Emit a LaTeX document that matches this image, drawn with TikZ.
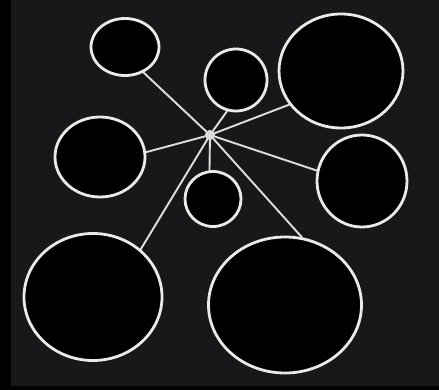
\documentclass[tikz,border=0pt]{standalone}
\usetikzlibrary{shapes.geometric}
\definecolor{bgg}{RGB}{24,24,26}
\definecolor{chalk}{RGB}{234,234,230}
\tikzset{
  blob/.style={ellipse, draw=chalk, fill=black, line width=2.8pt, inner sep=0pt},
  hub/.style={circle, fill=chalk!85!gray, minimum size=10pt, inner sep=0pt},
  spoke/.style={draw=chalk!90!gray, line width=1.9pt, line cap=round}
}
\begin{document}
\begin{tikzpicture}[x=1pt,y=-1pt]
\useasboundingbox (0,0) rectangle (439,390);
\fill[bgg] (0,0) rectangle (439,390);
\fill[black] (0,0) rectangle (11,390);
\fill[black] (0,386) rectangle (439,390);
\node[hub] (c) at (210,135) {};
\node[blob, minimum width=68pt, minimum height=57pt] (n1) at (125,47) {};
\node[blob, minimum width=62pt, minimum height=62pt] (n2) at (236,80) {};
\node[blob, minimum width=124pt, minimum height=114pt] (n3) at (341,71) {};
\node[blob, minimum width=90pt, minimum height=80pt] (n4) at (100,157) {};
\node[blob, minimum width=90pt, minimum height=92pt] (n5) at (362,181) {};
\node[blob, minimum width=56pt, minimum height=55pt] (n6) at (213,199) {};
\node[blob, minimum width=138pt, minimum height=127pt] (n7) at (93,297) {};
\node[blob, minimum width=153pt, minimum height=136pt] (n8) at (285,305) {};
\path[spoke] (c) -- (n1.306);
\path[spoke] (c) -- (n2.254);
\path[spoke] (c) -- (n3.213);
\path[spoke] (c) -- (n4.6);
\path[spoke] (c) -- (n5.167);
\path[spoke] (c) -- (n6.97);
\path[spoke] (c) -- (n7.45);
\path[spoke] (c) -- (n8.76);
\node[hub] at (c) {};
\end{tikzpicture}
\end{document}
